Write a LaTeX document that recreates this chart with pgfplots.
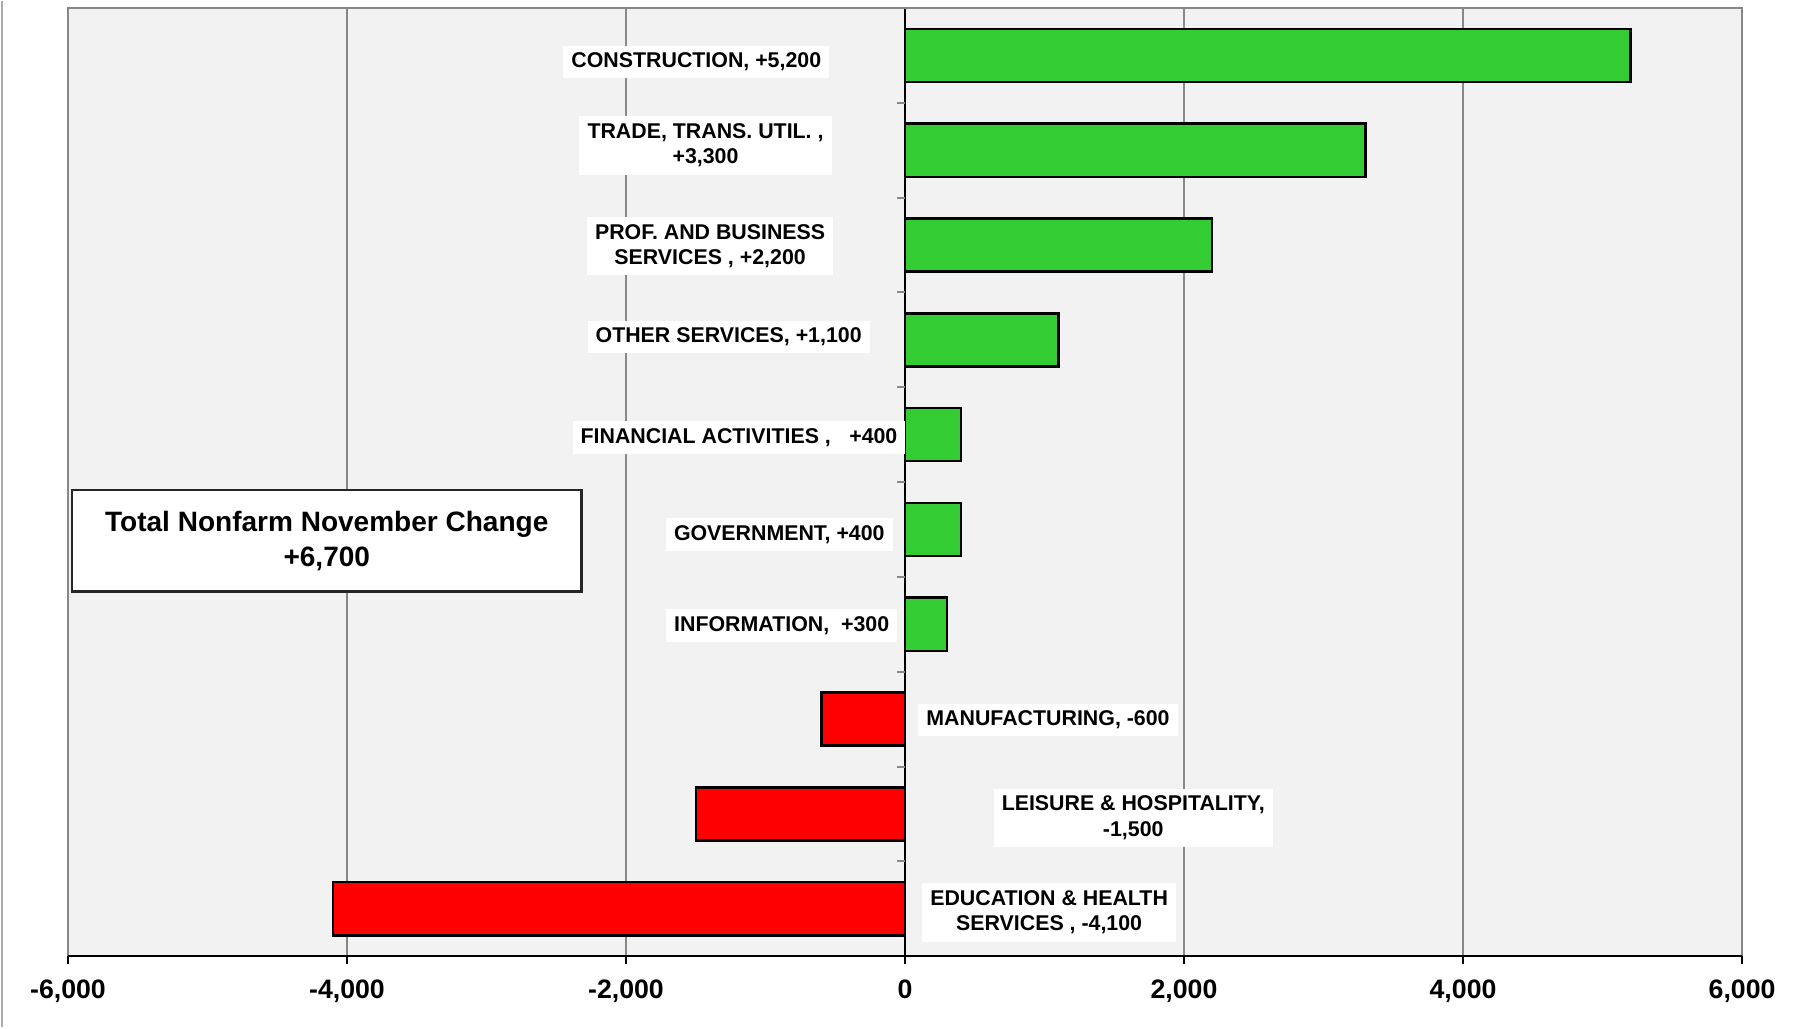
\documentclass[border=0pt]{standalone}
\usepackage{pgfplots}
\pgfplotsset{compat=1.18}
\usepackage{fontspec}
\setmainfont{Liberation Sans}

\definecolor{bgc}{RGB}{242,242,242}
\definecolor{barg}{RGB}{51,204,51}
\definecolor{barr}{RGB}{255,0,0}
\definecolor{frm}{RGB}{136,136,136}

\begin{document}
\begin{tikzpicture}
\begin{axis}[
	scale only axis,
	width = 501.8pt,
	height = 284.2pt,
	xbar,
	bar width = 0.56,
	xmin = -6000, xmax = 6000,
	ymin = -0.5, ymax = 9.5,
	y dir = reverse,
	xtick = {-6000, -4000, -2000, 0, 2000, 4000, 6000},
	xticklabels = {{-6,000}, {-4,000}, {-2,000}, 0, {2,000}, {4,000}, {6,000}},
	ytick = \empty,
	xtick pos = bottom,
	tick align = outside,
	major tick length = 2.4pt,
	tick style = {black, line width = 0.5pt},
	xticklabel style = {font = \fontsize{8}{9.6}\selectfont\bfseries, yshift = -1.3pt},
	xmajorgrids,
	grid style = {frm, line width = 0.5pt},
	axis background/.style = {fill = bgc},
	axis line style = {draw = none},
	clip = false,
	every axis plot/.append style = {bar shift = 0pt, draw = black, line width = 0.75pt}
]
% positive changes (top seven)
\addplot[fill = barg] coordinates {
	(5200, 0) % construction
	(3300, 1) % trade, trans. util.
	(2200, 2) % prof. and business services
	(1100, 3) % other services
	(400, 4)  % financial activities
	(400, 5)  % government
	(300, 6)  % information
};
% negative changes
\addplot[fill = barr] coordinates {
	(-600, 7)  % manufacturing
	(-1500, 8) % leisure & hospitality
	(-4100, 9) % education & health services
};

% zero line and the small ticks between categories
\draw[black, line width = 0.5pt] (axis cs:0,-0.5) -- (axis cs:0,9.5);
\pgfplotsinvokeforeach{0,...,8}{
	\draw[frm, line width = 0.6pt] (axis cs:0,#1+0.5) -- ++(-2.4pt,0pt);
}

% frame: grey on top, left and right, black at the bottom
\draw[frm, line width = 0.8pt] (axis description cs:0,0) -- (axis description cs:0,1)
	-- (axis description cs:1,1) -- (axis description cs:1,0);
\draw[black, line width = 0.8pt] (axis description cs:0,0) -- (axis description cs:1,0);
\draw[frm!70, line width = 0.6pt] (axis description cs:-0.0394,-0.0749) -- (axis description cs:-0.0394,1.0074);

% labels
\tikzset{lbl/.style = {fill = white, align = center, inner xsep = 2.4pt, inner ysep = 2.2pt,
	font = \fontsize{6.4}{7.6}\selectfont\bfseries}}
\node[lbl] at (axis cs:-1496,0.07) {CONSTRUCTION, +5,200};
\node[lbl] at (axis cs:-1430,0.95) {TRADE, TRANS. UTIL. ,\\+3,300};
\node[lbl] at (axis cs:-1397,2.01) {PROF. AND BUSINESS\\SERVICES , +2,200};
\node[lbl] at (axis cs:-1264,2.97) {OTHER SERVICES, +1,100};
\node[lbl] at (axis cs:-1190,4.03) {FINANCIAL ACTIVITIES ,\hspace{5.5pt}+400};
\node[lbl] at (axis cs:-901,5.05) {GOVERNMENT, +400};
\node[lbl] at (axis cs:-884,6.01) {INFORMATION,\ \ +300};
\node[lbl] at (axis cs:1025,7.01) {MANUFACTURING, -600};
\node[lbl] at (axis cs:1636,8.04) {LEISURE \& HOSPITALITY,\\-1,500};
\node[lbl] at (axis cs:1033,9.04) {EDUCATION \& HEALTH\\SERVICES , -4,100};

\node[fill = white, draw = black!85, line width = 0.7pt, align = center,
	minimum width = 152.8pt, minimum height = 30.4pt,
	font = \fontsize{8.4}{10.35}\selectfont\bfseries]
	at (axis cs:-4145,5.12) {Total Nonfarm November Change\\+6,700};

% page size
\path (axis description cs:-0.0406,-0.0749) rectangle (axis description cs:1.0394,1.0074);
\end{axis}
\end{tikzpicture}
\end{document}
